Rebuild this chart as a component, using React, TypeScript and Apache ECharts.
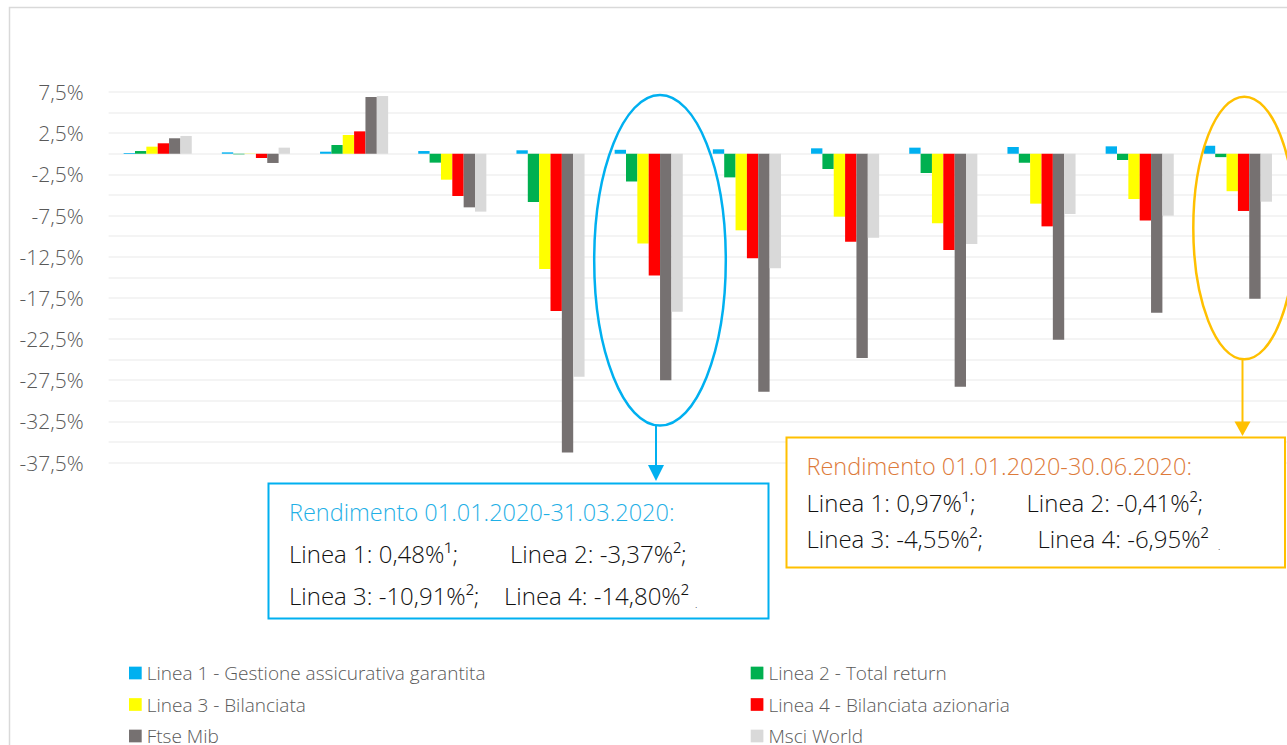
import React, { useEffect, useRef } from "react";
import * as echarts from "echarts";

const categories = ["1", "2", "3", "4", "5", "6", "7", "8", "9", "10", "11", "12"];
const seriesNames = [
  "Linea 1 - Gestione assicurativa garantita",
  "Linea 2 - Total return",
  "Linea 3 - Bilanciata",
  "Linea 4 - Bilanciata azionaria",
  "Ftse Mib",
  "Msci World",
];
const linea1 = [0.09, 0.17, 0.25, 0.33, 0.42, 0.48, 0.54, 0.66, 0.74, 0.82, 0.9, 0.97];
const linea2 = [0.33, -0.07, 1.06, -1.08, -5.86, -3.37, -2.87, -1.85, -2.34, -1.08, -0.76, -0.41];
const linea3 = [0.86, -0.03, 2.28, -3.15, -14.0, -10.91, -9.3, -7.64, -8.45, -6.06, -5.5, -4.55];
const linea4 = [1.27, -0.52, 2.72, -5.13, -19.1, -14.8, -12.7, -10.68, -11.69, -8.82, -8.12, -6.95];
const ftseMib = [1.88, -1.12, 6.89, -6.51, -36.3, -27.5, -28.9, -24.8, -28.3, -22.6, -19.3, -17.6];
const msciWorld = [2.16, 0.74, 7.01, -7.03, -27.1, -19.2, -13.9, -10.2, -10.96, -7.32, -7.52, -5.82];
const colors = ["#00b0f0", "#00b050", "#ffff00", "#ff0000", "#767171", "#d9d9d9"];

const FONT = "'Open Sans', 'Segoe UI', sans-serif";

export default function App() {
  const ref = useRef<HTMLDivElement>(null);
  useEffect(() => {
    if (!ref.current) return;
    const chart = echarts.init(ref.current, null, { renderer: "svg" });
    const values = [linea1, linea2, linea3, linea4, ftseMib, msciWorld];
    const txt = (text: string, x: number, y: number, fill: string, size: number) => ({
      type: "text",
      z: 100,
      x,
      y,
      style: { text, fill, font: `300 ${size}px ${FONT}`, verticalAlign: "middle", align: "left" },
    });
    const legendCommon = {
      orient: "vertical",
      top: 663,
      height: 200,
      itemWidth: 12.7,
      itemHeight: 12.7,
      itemGap: 11.5,
      icon: "rect",
      padding: 0,
      textStyle: { color: "#595959", fontFamily: FONT, fontWeight: 300, fontSize: 19, lineHeight: 20 },
    };
    chart.setOption({
      animation: false,
      backgroundColor: "#ffffff",
      grid: { left: 108.6, right: -6, top: 92, bottom: 282.5 },
      xAxis: {
        type: "category",
        data: categories,
        axisLine: { show: false },
        axisTick: { show: false },
        axisLabel: { show: false },
      },
      yAxis: {
        type: "value",
        min: -37.5,
        max: 7.5,
        interval: 2.5,
        axisLine: { show: false },
        axisTick: { show: false },
        splitLine: { lineStyle: { color: "#f0f0f0", width: 1.5 } },
        axisLabel: {
          margin: 25,
          color: "#595959",
          fontFamily: FONT,
          fontWeight: 300,
          fontSize: 21,
          formatter: (v: number) => {
            const r = Math.round(v * 10) / 10;
            if (Math.abs(r % 5) !== 2.5) return "";
            return r.toFixed(1).replace(".", ",") + "%";
          },
        },
      },
      legend: [
        { ...legendCommon, left: 129, data: [seriesNames[0], seriesNames[2], seriesNames[4]] },
        { ...legendCommon, left: 750.7, data: [seriesNames[1], seriesNames[3], seriesNames[5]] },
      ],
      series: seriesNames.map((name, i) => ({
        name,
        type: "bar",
        data: values[i],
        barWidth: 11.35,
        barGap: "0%",
        itemStyle: { color: colors[i] },
      })),
      graphic: [
        {
          type: "rect",
          z: 100,
          shape: { x: 9.5, y: 7.5, width: 1400, height: 900 },
          style: { fill: "none", stroke: "#d9d9d9", lineWidth: 1.5 },
        },
        {
          type: "ellipse",
          z: 100,
          shape: { cx: 660, cy: 260.3, rx: 65.8, ry: 165.3 },
          style: { fill: "none", stroke: "#00b0f0", lineWidth: 2.5 },
        },
        {
          type: "line",
          z: 100,
          shape: { x1: 656, y1: 426, x2: 656, y2: 468 },
          style: { stroke: "#00b0f0", lineWidth: 2 },
        },
        {
          type: "polygon",
          z: 100,
          shape: { points: [[648, 465], [664, 465], [656, 481]] },
          style: { fill: "#00b0f0" },
        },
        {
          type: "rect",
          z: 100,
          shape: { x: 268.5, y: 483.5, width: 500, height: 135 },
          style: { fill: "#ffffff", stroke: "#00b0f0", lineWidth: 2 },
        },
        txt("Rendimento 01.01.2020-31.03.2020:", 289, 511.5, "#1fb0e6", 23.5),
        txt("Linea 1: 0,48%¹;", 289, 553, "#111111", 24),
        txt("Linea 2: -3,37%²;", 510, 553, "#111111", 24),
        txt("Linea 3: -10,91%²;", 289, 595, "#111111", 24),
        txt("Linea 4: -14,80%²", 504, 595, "#111111", 24),
        txt(".", 695, 604, "#111111", 10),
        {
          type: "ellipse",
          z: 100,
          shape: { cx: 1244.3, cy: 228, rx: 51, ry: 131.3 },
          style: { fill: "none", stroke: "#ffc000", lineWidth: 2.5 },
        },
        {
          type: "line",
          z: 100,
          shape: { x1: 1242.5, y1: 359, x2: 1242.5, y2: 424 },
          style: { stroke: "#ffc000", lineWidth: 2 },
        },
        {
          type: "polygon",
          z: 100,
          shape: { points: [[1234.5, 421.5], [1250.5, 421.5], [1242.5, 436]] },
          style: { fill: "#ffc000" },
        },
        {
          type: "rect",
          z: 100,
          shape: { x: 786.5, y: 437.5, width: 498.5, height: 130 },
          style: { fill: "#ffffff", stroke: "#ffc000", lineWidth: 2 },
        },
        txt("Rendimento 01.01.2020-30.06.2020:", 806.5, 466, "#dd7a3a", 23.5),
        txt("Linea 1: 0,97%¹;", 806.5, 502, "#111111", 24),
        txt("Linea 2: -0,41%²;", 1026.5, 502, "#111111", 24),
        txt("Linea 3: -4,55%²;", 806.5, 538, "#111111", 24),
        txt("Linea 4: -6,95%²", 1037.5, 538, "#111111", 24),
        txt(".", 1218, 546, "#111111", 10),
      ],
    });
    return () => chart.dispose();
  }, []);
  return (
    <div
      ref={ref}
      style={{ position: "fixed", left: 0, top: 0, width: 1287, height: 745 }}
    />
  );
}
